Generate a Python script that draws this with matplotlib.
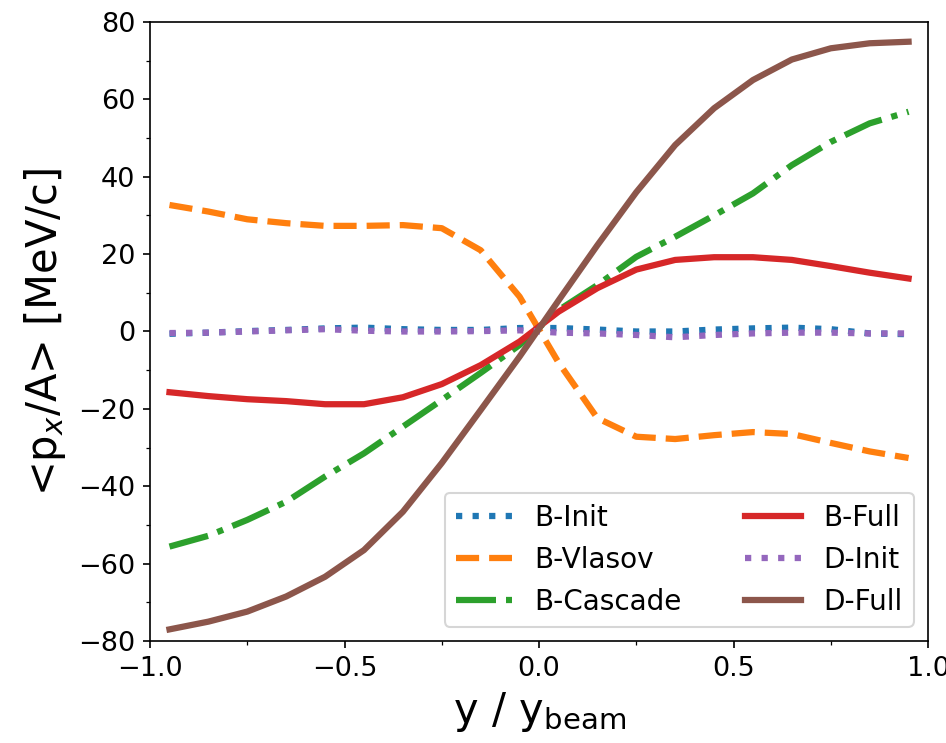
import matplotlib.pyplot as plt
from matplotlib.ticker import MultipleLocator

x = [-0.95, -0.85, -0.75, -0.65, -0.55, -0.45, -0.35, -0.25, -0.15, -0.05,
     0.05, 0.15, 0.25, 0.35, 0.45, 0.55, 0.65, 0.75, 0.85, 0.95]

bInit = [-0.6, -0.3, 0.1, 0.4, 0.8, 1.0, 0.6, 0.4, 0.4, 0.9,
         0.9, 0.5, 0.0, 0.0, 0.5, 0.8, 1.0, 0.6, -0.5, -0.7]
bVlasov = [32.7, 31.0, 29.0, 28.0, 27.3, 27.3, 27.5, 26.7, 21.0, 9.0,
           -8.0, -22.4, -27.2, -27.8, -26.8, -26.0, -26.5, -28.8, -31.0, -32.7]
bCascade = [-55.6, -52.8, -48.7, -44.0, -37.5, -31.5, -24.6, -17.7, -10.7, -3.5,
            5.5, 12.0, 19.3, 24.5, 30.0, 35.7, 43.0, 49.0, 53.8, 56.8]
bFull = [-15.7, -16.7, -17.5, -18.0, -18.8, -18.8, -17.0, -13.6, -8.7, -2.6,
         5.1, 11.2, 16.0, 18.5, 19.2, 19.2, 18.5, 16.9, 15.2, 13.7]
dInit = [-0.4, -0.3, 0.0, 0.3, 0.6, 0.2, 0.0, 0.0, 0.1, 0.3,
         -0.3, -0.5, -0.9, -1.5, -0.9, -0.5, -0.3, -0.3, -0.5, -0.5]
dFull = [-77.0, -75.0, -72.4, -68.5, -63.4, -56.5, -46.6, -34.0, -20.3, -6.5,
         8.0, 22.3, 36.0, 48.2, 57.7, 65.0, 70.3, 73.2, 74.5, 74.9]

labels = ['B-Init', 'B-Vlasov', 'B-Cascade', 'B-Full', 'D-Init', 'D-Full']

fig = plt.figure(figsize=(946 / 150, 743 / 150), dpi=150)
ax = fig.add_axes([0.1586, 0.1373, 0.8224, 0.8331])

ax.plot(x, bInit, ':', color='C0', lw=3)
ax.plot(x, bVlasov, '--', color='C1', lw=3)
ax.plot(x, bCascade, '-.', color='C2', lw=3)
ax.plot(x, bFull, '-', color='C3', lw=3)
ax.plot(x, dInit, ':', color='C4', lw=3)
ax.plot(x, dFull, '-', color='C5', lw=3)

ax.set_xlim(-1.0, 1.0)
ax.set_ylim(-80, 80)
ax.xaxis.set_major_locator(MultipleLocator(0.5))
ax.xaxis.set_minor_locator(MultipleLocator(0.25))
ax.yaxis.set_major_locator(MultipleLocator(20))
ax.yaxis.set_minor_locator(MultipleLocator(10))
ax.tick_params(labelsize=13)

ax.set_xlabel(r'$\mathrm{y\ /\ y_{beam}}$', fontsize=20)
ax.set_ylabel(r'<p$_x$/A> [MeV/c]', fontsize=20, labelpad=5)
ax.legend(labels, loc='lower right', ncol=2, fontsize=13.4, columnspacing=2.3)

plt.savefig('out.png', dpi=150)
